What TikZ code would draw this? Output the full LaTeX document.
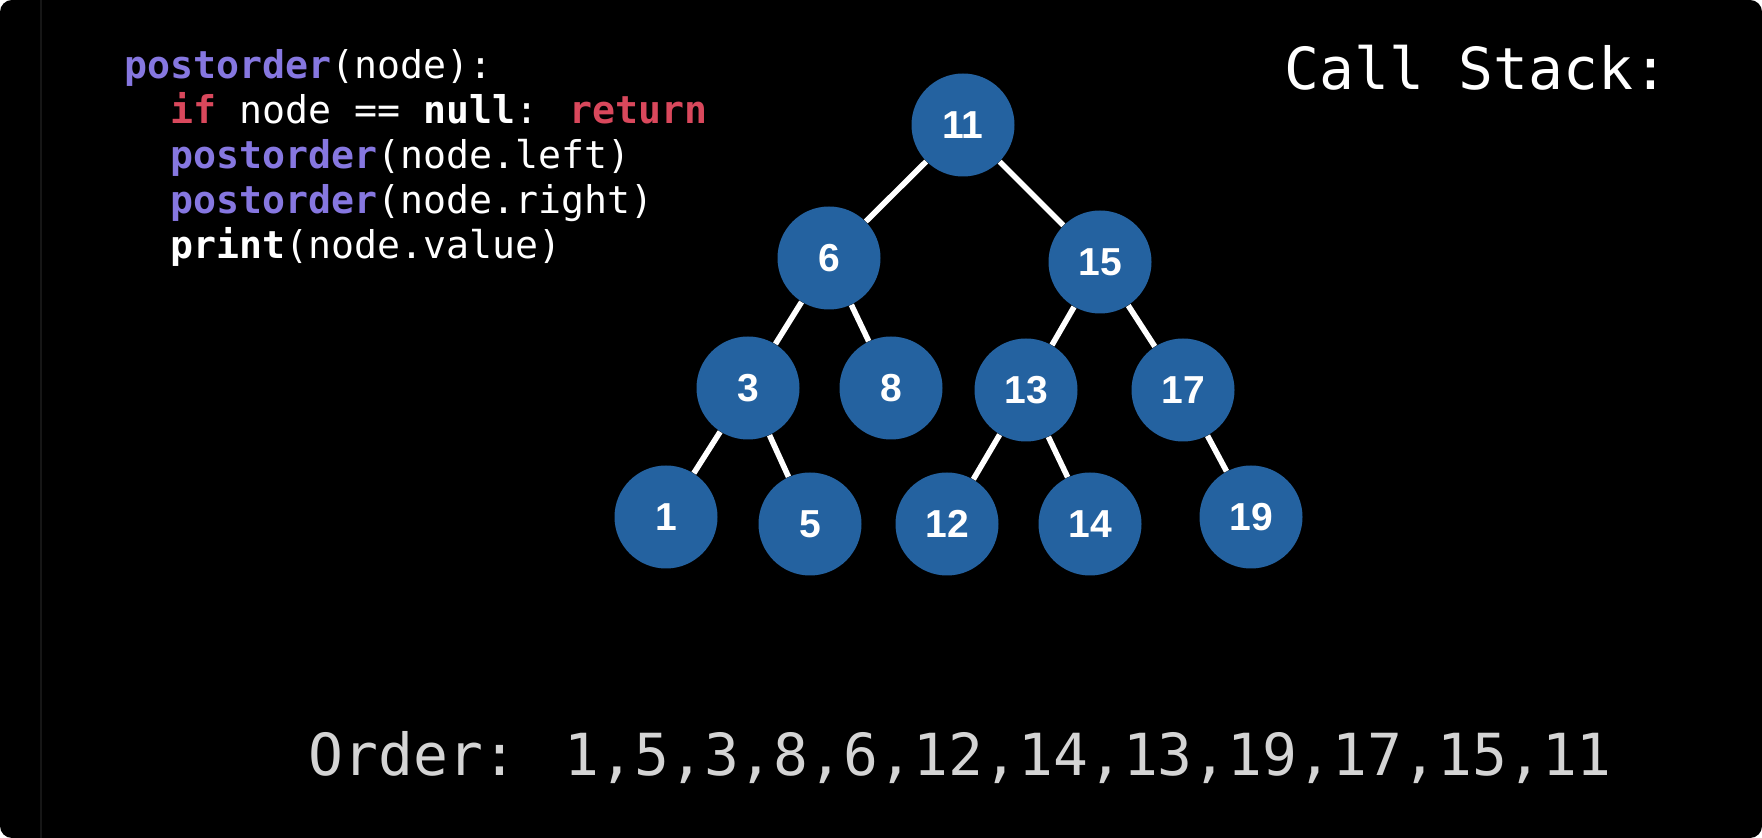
\documentclass[tikz,border=0pt]{standalone}
\usepackage{fontspec}
\newfontfamily\codefont{DejaVu Sans Mono}
\newfontfamily\numfont{Liberation Sans}
\definecolor{kwpurple}{HTML}{8677E0}
\definecolor{kwred}{HTML}{D9485C}
\definecolor{nodeblue}{HTML}{2462A0}
\definecolor{ordergray}{HTML}{D4D4D4}
\definecolor{edgegray}{HTML}{161616}
\begin{document}
\begin{tikzpicture}[x=0.5pt,y=-0.5pt,
  tnode/.style={circle, fill=nodeblue, minimum size=51.5pt, inner sep=0pt, text=white, font=\numfont\bfseries\fontsize{19.5}{21}\selectfont},
  tedge/.style={white, line width=2.8pt},
  codeline/.style={anchor=base west, inner sep=0pt, text=white, font=\codefont\fontsize{19.1}{22}\selectfont},
  bigtext/.style={anchor=base west, inner sep=0pt, font=\codefont\fontsize{29}{32}\selectfont}]
\useasboundingbox (0,0) rectangle (1762,838);
\fill[white] (0,0) rectangle (1762,838);
\fill[black, rounded corners=6pt] (0,0) rectangle (1762,838);
\draw[edgegray, line width=1pt] (41,0) -- (41,838);

% code
\node[codeline] (c1) at (124,79) {\textcolor{kwpurple}{\bfseries postorder}(node):};
\node[codeline] (c2) at (170,124) {\textcolor{kwred}{\bfseries if} node == {\bfseries null}: \textcolor{kwred}{\bfseries return}};
\node[codeline] (c3) at (170,169) {\textcolor{kwpurple}{\bfseries postorder}(node.left)};
\node[codeline] (c4) at (170,214) {\textcolor{kwpurple}{\bfseries postorder}(node.right)};
\node[codeline] (c5) at (170,259) {{\bfseries print}(node.value)};

\node[bigtext, text=white] (cs) at (1284,90) {Call Stack:};
\node[bigtext, text=ordergray] (ord) at (308,776) {Order: 1,5,3,8,6,12,14,13,19,17,15,11};

% tree
\node[tnode] (n11) at (963,125) {11};
\node[tnode] (n6) at (829,258) {6};
\node[tnode] (n15) at (1100,262) {15};
\node[tnode] (n3) at (748,388) {3};
\node[tnode] (n8) at (891,388) {8};
\node[tnode] (n13) at (1026,390) {13};
\node[tnode] (n17) at (1183,390) {17};
\node[tnode] (n1) at (666,517) {1};
\node[tnode] (n5) at (810,524) {5};
\node[tnode] (n12) at (947,524) {12};
\node[tnode] (n14) at (1090,524) {14};
\node[tnode] (n19) at (1251,517) {19};

\draw[tedge] (n11) -- (n6);
\draw[tedge] (n11) -- (n15);
\draw[tedge] (n6) -- (n3);
\draw[tedge] (n6) -- (n8);
\draw[tedge] (n15) -- (n13);
\draw[tedge] (n15) -- (n17);
\draw[tedge] (n3) -- (n1);
\draw[tedge] (n3) -- (n5);
\draw[tedge] (n13) -- (n12);
\draw[tedge] (n13) -- (n14);
\draw[tedge] (n17) -- (n19);
\end{tikzpicture}
\end{document}
